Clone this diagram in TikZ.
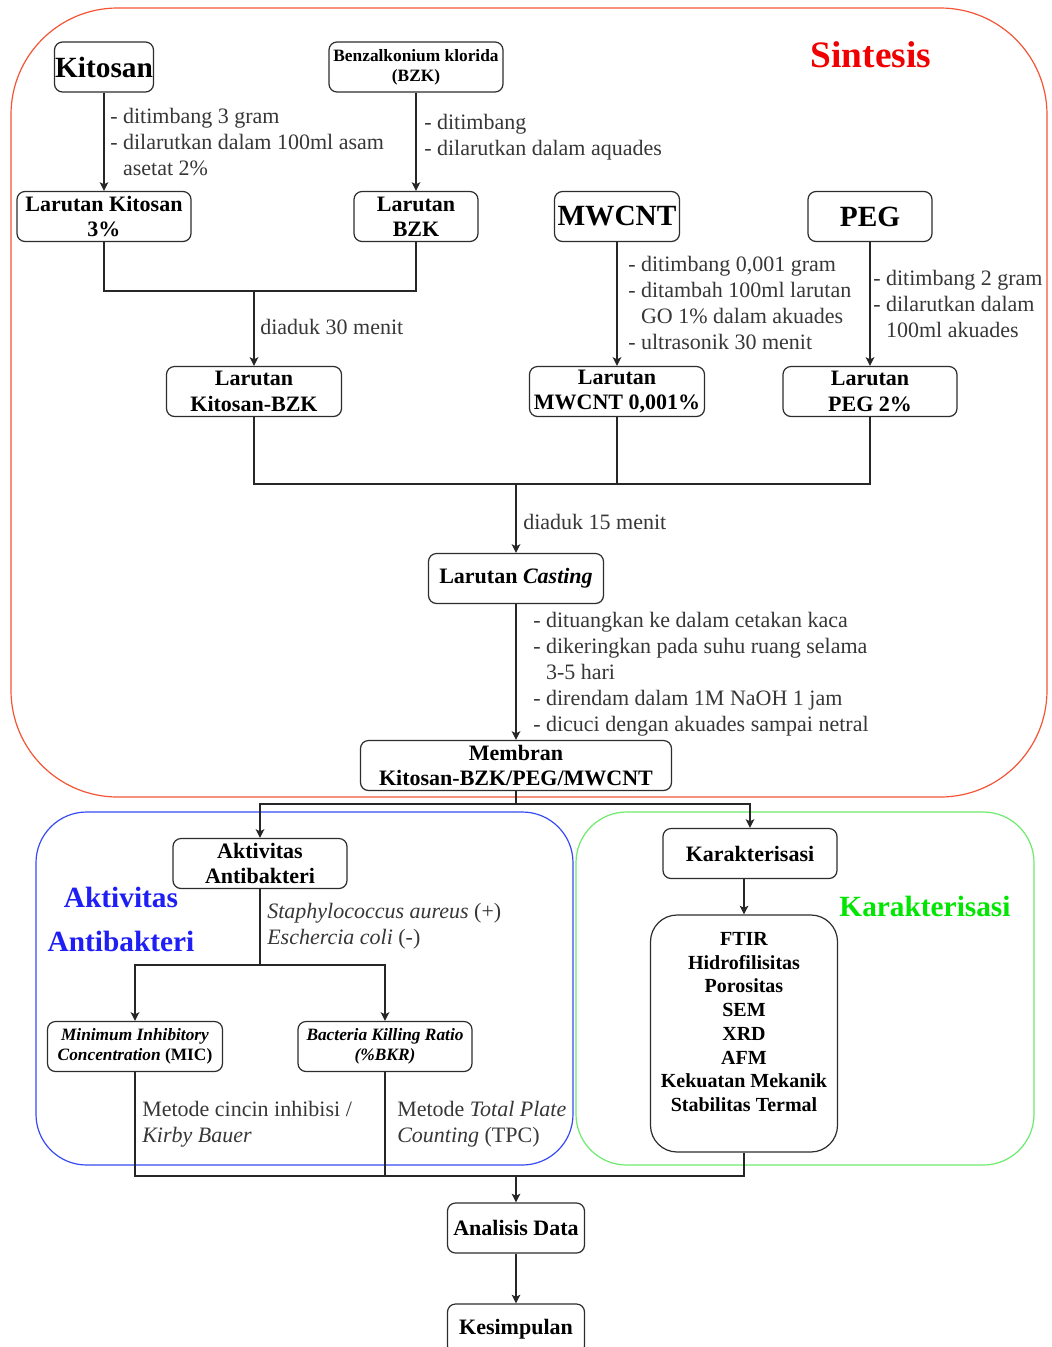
\documentclass[tikz,border=0pt]{standalone}
\usepackage{fontspec}
\setmainfont{Liberation Serif}
\usetikzlibrary{arrows.meta}
\definecolor{boxc}{RGB}{45,45,45}
\definecolor{txtc}{RGB}{55,55,55}
\definecolor{sinred}{RGB}{245,85,55}
\definecolor{sinlabel}{RGB}{240,0,0}
\definecolor{abblue}{RGB}{55,75,245}
\definecolor{ablabel}{RGB}{30,30,245}
\definecolor{kargreen}{RGB}{110,235,110}
\definecolor{karlabel}{RGB}{0,230,0}
\newcommand\fsz[2]{\fontsize{#1}{#2}\selectfont}
\begin{document}
\begin{tikzpicture}[x=0.75pt,y=-0.75pt,
  box/.style={draw=boxc, line width=0.9pt, rounded corners=6pt, align=center,
    inner sep=0pt, minimum height=37.5pt, text=black, font=\bfseries\fsz{16.5pt}{19pt}},
  lbl/.style={anchor=north west, inner sep=0pt, align=left, text=txtc, font=\fsz{16.5pt}{19.5pt}},
  conn/.style={draw=black!85, line width=0.9pt},
  arr/.style={conn, -{Stealth[length=6.5pt,width=6.5pt,inset=1.5pt]}},
  grp/.style={line width=0.9pt}]
\clip (0,0) rectangle (1051,1347);
\fill[white] (0,0) rectangle (1051,1347);

% group containers
\draw[grp, draw=sinred, rounded corners=80pt] (11,8) rectangle (1047,797);
\draw[grp, draw=abblue, rounded corners=38pt] (36,812) rectangle (573,1165);
\draw[grp, draw=kargreen, rounded corners=38pt] (576,812) rectangle (1034,1165);

% group titles
\node[font=\bfseries\fsz{28pt}{30pt}, text=sinlabel] (tsin) at (871,55) {Sintesis};
\node[font=\bfseries\fsz{22pt}{33pt}, text=ablabel, align=center] (tab) at (121,919) {Aktivitas\\Antibakteri};
\node[font=\bfseries\fsz{22pt}{24pt}, text=karlabel] (tkar) at (925,906) {Karakterisasi};

% boxes
\node[box, minimum width=74.25pt, font=\bfseries\fsz{22pt}{24pt}] (kit) at (104,67) {Kitosan};
\node[box, minimum width=130.5pt, font=\bfseries\fsz{13pt}{15pt}] (bzk) at (416,67) {Benzalkonium klorida\\(BZK)};
\node[box, minimum width=130.5pt] (lk) at (104,216.5) {Larutan Kitosan\\3\%};
\node[box, minimum width=93pt] (lbzk) at (416,216.5) {Larutan\\BZK};
\node[box, minimum width=93.75pt, font=\bfseries\fsz{22pt}{24pt}] (mw) at (617,216.5) {MWCNT};
\node[box, minimum width=93pt, font=\bfseries\fsz{22pt}{24pt}] (peg) at (870,216.5) {PEG};
\node[box, minimum width=131.25pt] (lkb) at (254,391.5) {Larutan\\Kitosan-BZK};
\node[box, minimum width=131.25pt] (lmw) at (617,391.5) {Larutan\\MWCNT 0,001\%};
\node[box, minimum width=130.5pt] (lpeg) at (870,391.5) {Larutan\\PEG 2\%};
\node[box, minimum width=131.25pt] (cast) at (516,578.5) {Larutan \textit{Casting}};
\node[box, minimum width=233.25pt] (mem) at (516,765.5) {Membran\\Kitosan-BZK/PEG/MWCNT};
\node[box, minimum width=130.5pt] (aa) at (260,863.5) {Aktivitas\\Antibakteri};
\node[box, minimum width=131.25pt, font=\bfseries\fsz{13pt}{15pt}] (mic) at (135,1046.5) {\textit{Minimum Inhibitory}\\\textit{Concentration} (MIC)};
\node[box, minimum width=130.5pt, font=\bfseries\fsz{13pt}{15pt}] (bkr) at (385,1046.5) {\textit{Bacteria Killing Ratio}\\\textit{(\%BKR)}};
\node[box, minimum width=130.5pt] (kar) at (750,853.5) {Karakterisasi};
\node[box, minimum width=140.25pt, minimum height=177.75pt, rounded corners=20pt] (list) at (744,1033.5) {};
\node[align=center, inner sep=0pt, font=\bfseries\fsz{15pt}{17.8pt}] (listtxt) at (744,1022) {FTIR\\Hidrofilisitas\\Porositas\\SEM\\XRD\\AFM\\Kekuatan Mekanik\\Stabilitas Termal};
\node[box, minimum width=102.75pt] (ad) at (516,1228) {Analisis Data};
\node[box, minimum width=102.75pt] (kes) at (516,1329) {Kesimpulan};

% junctions
\coordinate (m1) at (254,291);
\coordinate (m2) at (516,484);
\coordinate (j1) at (516,804);
\coordinate (m4) at (260,965);
\coordinate (m3) at (516,1176);

% connectors
\draw[arr] (kit) -- (lk);
\draw[arr] (bzk) -- (lbzk);
\draw[conn] (lk) |- (m1) -| (lbzk);
\draw[arr] (m1) -- (lkb);
\draw[arr] (mw) -- (lmw);
\draw[arr] (peg) -- (lpeg);
\draw[conn] (lkb) |- (m2) -| (lpeg);
\draw[conn] (lmw) -- (lmw |- m2);
\draw[arr] (m2) -- (cast);
\draw[arr] (cast) -- (mem);
\draw[conn] (mem) -- (j1);
\draw[arr] (j1) -| (aa);
\draw[arr] (j1) -| (kar);
\draw[conn] (aa) -- (m4);
\draw[arr] (m4) -| (mic);
\draw[arr] (m4) -| (bkr);
\draw[arr] (list |- kar.south) -- (list);
\draw[conn] (mic) |- (m3) -| (list);
\draw[conn] (bkr) -- (bkr |- m3);
\draw[arr] (m3) -- (ad);
\draw[arr] (ad) -- (kes);

% labels
\node[lbl] (l1) at (110,108) {- ditimbang 3 gram\\- dilarutkan dalam 100ml asam\\\phantom{- }asetat 2\%};
\node[lbl] (l2) at (424,114) {- ditimbang\\- dilarutkan dalam aquades};
\node[lbl] (l3) at (260,319) {diaduk 30 menit};
\node[lbl] (l4) at (628,256) {- ditimbang 0,001 gram\\- ditambah 100ml larutan\\\phantom{- }GO 1\% dalam akuades\\- ultrasonik 30 menit};
\node[lbl] (l5) at (873,270) {- ditimbang 2 gram\\- dilarutkan dalam\\\phantom{- }100ml akuades};
\node[lbl] (l6) at (523,514) {diaduk 15 menit};
\node[lbl] (l7) at (533,612) {- dituangkan ke dalam cetakan kaca\\- dikeringkan pada suhu ruang selama\\\phantom{- }3-5 hari\\- direndam dalam 1M NaOH 1 jam\\- dicuci dengan akuades sampai netral};
\node[lbl] (l8) at (267,903) {\textit{Staphylococcus aureus} (+)\\\textit{Eschercia coli} (-)};
\node[lbl] (l9) at (142,1101) {Metode cincin inhibisi /\\\textit{Kirby Bauer}};
\node[lbl] (l10) at (397,1101) {Metode \textit{Total Plate}\\\textit{Counting} (TPC)};
\end{tikzpicture}
\end{document}
